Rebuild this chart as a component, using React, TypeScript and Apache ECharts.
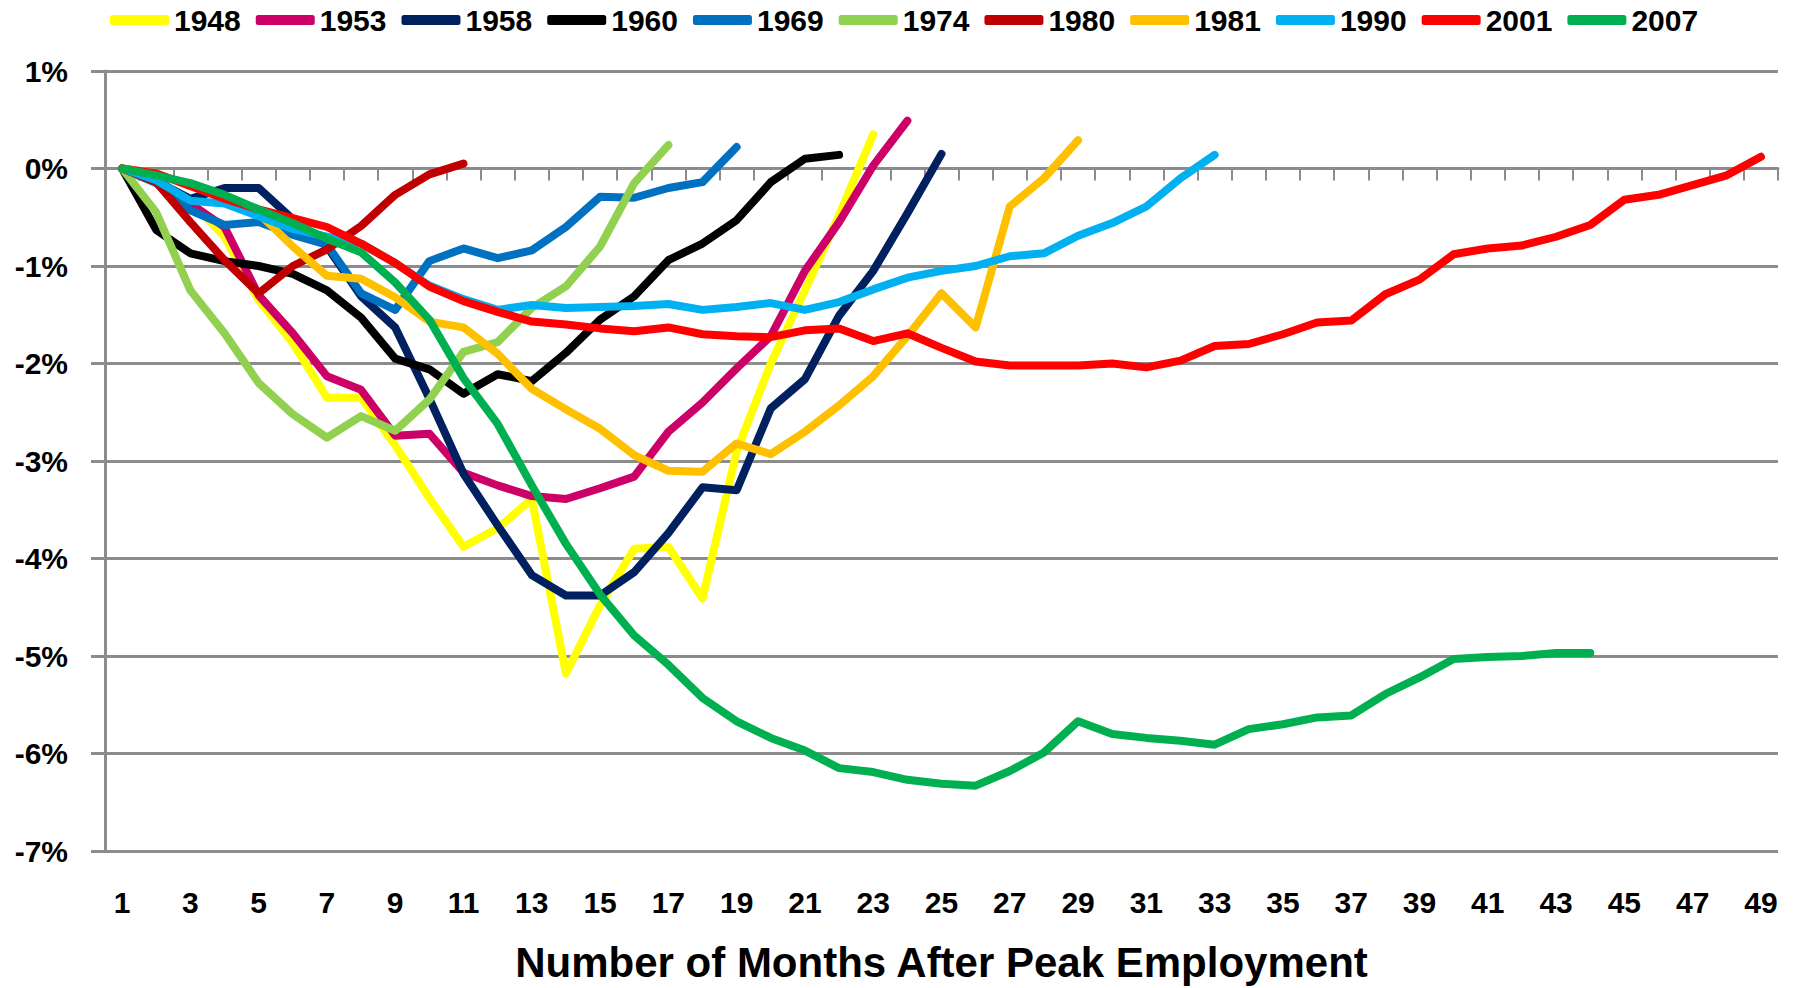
import React, { useEffect, useRef } from "react";
import * as echarts from "echarts";

const months: string[] = [
  "1","2","3","4","5","6","7","8","9","10","11","12","13","14","15","16","17","18","19","20",
  "21","22","23","24","25","26","27","28","29","30","31","32","33","34","35","36","37","38","39","40",
  "41","42","43","44","45","46","47","48","49",
];

const s1948 = [0, -0.15, -0.33, -0.7, -1.35, -1.79, -2.35, -2.35, -2.84, -3.38, -3.88, -3.69, -3.39, -5.18, -4.48, -3.9, -3.88, -4.41, -2.9, -2.0, -1.25, -0.48, 0.35];
const s1953 = [0, -0.1, -0.36, -0.6, -1.3, -1.69, -2.13, -2.27, -2.74, -2.72, -3.12, -3.25, -3.36, -3.39, -3.28, -3.16, -2.7, -2.4, -2.05, -1.72, -1.05, -0.55, 0.03, 0.49];
const s1958 = [0, -0.13, -0.31, -0.2, -0.2, -0.52, -0.8, -1.31, -1.63, -2.36, -3.13, -3.66, -4.17, -4.38, -4.38, -4.14, -3.74, -3.27, -3.3, -2.46, -2.16, -1.51, -1.05, -0.46, 0.15];
const s1960 = [0, -0.63, -0.87, -0.95, -1.0, -1.08, -1.25, -1.53, -1.95, -2.06, -2.31, -2.11, -2.18, -1.89, -1.55, -1.31, -0.94, -0.77, -0.53, -0.14, 0.1, 0.14];
const s1969 = [0, -0.15, -0.43, -0.58, -0.55, -0.68, -0.78, -1.28, -1.45, -0.95, -0.82, -0.92, -0.84, -0.6, -0.29, -0.3, -0.2, -0.14, 0.22];
const s1974 = [0, -0.45, -1.25, -1.69, -2.2, -2.52, -2.76, -2.54, -2.69, -2.37, -1.88, -1.78, -1.43, -1.21, -0.8, -0.15, 0.24];
const s1980 = [0, -0.14, -0.55, -0.94, -1.28, -1.0, -0.83, -0.59, -0.27, -0.06, 0.05];
const s1981 = [0, -0.05, -0.18, -0.3, -0.46, -0.8, -1.1, -1.13, -1.32, -1.57, -1.63, -1.9, -2.26, -2.47, -2.67, -2.94, -3.1, -3.11, -2.82, -2.93, -2.7, -2.43, -2.13, -1.72, -1.28, -1.63, -0.39, -0.1, 0.29];
const s1990 = [0, -0.12, -0.33, -0.36, -0.49, -0.62, -0.7, -0.77, -0.97, -1.2, -1.34, -1.45, -1.4, -1.43, -1.42, -1.41, -1.39, -1.45, -1.42, -1.38, -1.45, -1.37, -1.24, -1.12, -1.05, -1.0, -0.9, -0.87, -0.69, -0.56, -0.39, -0.1, 0.14];
const s2001 = [0, -0.05, -0.18, -0.31, -0.42, -0.51, -0.6, -0.77, -0.97, -1.21, -1.36, -1.47, -1.57, -1.6, -1.64, -1.67, -1.63, -1.7, -1.72, -1.73, -1.66, -1.64, -1.77, -1.69, -1.84, -1.98, -2.02, -2.02, -2.02, -2.0, -2.04, -1.97, -1.82, -1.8, -1.7, -1.58, -1.56, -1.29, -1.14, -0.88, -0.82, -0.79, -0.7, -0.58, -0.32, -0.27, -0.17, -0.07, 0.12];
const s2007 = [0, -0.07, -0.15, -0.27, -0.42, -0.56, -0.72, -0.86, -1.17, -1.55, -2.15, -2.62, -3.25, -3.85, -4.37, -4.79, -5.09, -5.43, -5.67, -5.84, -5.97, -6.15, -6.19, -6.27, -6.31, -6.33, -6.18, -5.99, -5.67, -5.8, -5.84, -5.87, -5.91, -5.75, -5.7, -5.63, -5.61, -5.39, -5.22, -5.03, -5.01, -5.0, -4.97, -4.97];

const seriesNames = ["1948", "1953", "1958", "1960", "1969", "1974", "1980", "1981", "1990", "2001", "2007"];
const seriesData = [s1948, s1953, s1958, s1960, s1969, s1974, s1980, s1981, s1990, s2001, s2007];
const seriesColors = ["#FFFF00", "#CC0066", "#002060", "#000000", "#0070C0", "#92D050", "#C00000", "#FFC000", "#00B0F0", "#FF0000", "#00B050"];

const yMin = -7;
const yMax = 1;
const yStep = 1;
const xTitle = "Number of Months After Peak Employment";

const FONT = "'Liberation Sans', Arial, sans-serif";
const GRID = "#8c8c8c";

export default function App() {
  const ref = useRef<HTMLDivElement>(null);
  useEffect(() => {
    if (!ref.current) return;
    const chart = echarts.init(ref.current, undefined, { renderer: "svg" });
    chart.setOption({
      animation: false,
      backgroundColor: "#ffffff",
      textStyle: { fontFamily: FONT },
      legend: {
        left: 105,
        top: 0,
        itemWidth: 59,
        itemHeight: 10,
        itemGap: 15,
        icon: "roundRect",
        textStyle: { fontFamily: FONT, fontWeight: "bold", fontSize: 30, color: "#000" },
        data: seriesNames,
      },
      grid: { left: 105, right: 15, top: 71, bottom: 135, containLabel: false },
      xAxis: {
        type: "category",
        data: months,
        boundaryGap: true,
        axisLine: { show: true, lineStyle: { color: GRID, width: 3 } },
        axisTick: { show: true, interval: 0, length: 12, lineStyle: { color: GRID, width: 2 } },
        axisLabel: { interval: 1, margin: 36, fontFamily: FONT, fontWeight: "bold", fontSize: 30, color: "#000" },
        splitLine: { show: false },
        name: xTitle,
        nameLocation: "middle",
        nameGap: 90,
        nameTextStyle: { fontFamily: FONT, fontWeight: "bold", fontSize: 42, color: "#000" },
      },
      yAxis: {
        type: "value",
        min: yMin,
        max: yMax,
        interval: yStep,
        axisLine: { show: true, lineStyle: { color: GRID, width: 3 } },
        axisTick: { show: true, length: 14, lineStyle: { color: GRID, width: 3 } },
        axisLabel: { margin: 37, formatter: "{value}%", fontFamily: FONT, fontWeight: "bold", fontSize: 30, color: "#000" },
        splitLine: { show: true, lineStyle: { color: GRID, width: 3 } },
      },
      series: seriesNames.map((name, i) => ({
        name,
        type: "line",
        data: seriesData[i],
        symbol: "none",
        color: seriesColors[i],
        lineStyle: { width: 8, color: seriesColors[i], cap: "round", join: "round" },
      })),
    });
    return () => chart.dispose();
  }, []);
  return <div ref={ref} style={{ position: "fixed", left: 0, top: 0, width: 1793, height: 988 }} />;
}
